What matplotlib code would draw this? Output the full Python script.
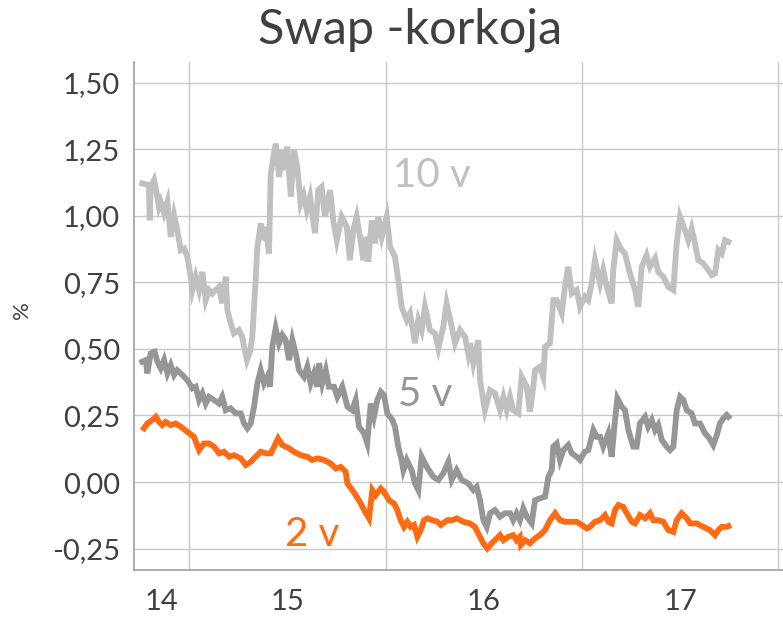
import numpy as np
import matplotlib
matplotlib.use("Agg")
import matplotlib.pyplot as plt

# Swap-korot: päivämäärä desimaalivuosina, korko prosentteina
dates_10v = [2014.762, 2014.796, 2014.800, 2014.805, 2014.822, 2014.831, 2014.847, 2014.856,
             2014.873, 2014.890, 2014.907, 2014.924, 2014.940, 2014.958, 2014.975, 2014.991,
             2015.009, 2015.017, 2015.034, 2015.051, 2015.068, 2015.085, 2015.102, 2015.119,
             2015.136, 2015.153, 2015.169, 2015.187, 2015.195, 2015.212, 2015.229, 2015.254,
             2015.271, 2015.280, 2015.295, 2015.310, 2015.322, 2015.339, 2015.348, 2015.365,
             2015.377, 2015.390, 2015.407, 2015.416, 2015.441, 2015.458, 2015.475, 2015.492,
             2015.500, 2015.518, 2015.534, 2015.551, 2015.568, 2015.583, 2015.599, 2015.616,
             2015.641, 2015.658, 2015.675, 2015.692, 2015.718, 2015.734, 2015.752, 2015.777,
             2015.803, 2015.819, 2015.836, 2015.853, 2015.870, 2015.887, 2015.904, 2015.912,
             2015.930, 2015.947, 2015.963, 2015.981, 2016.006, 2016.023, 2016.048, 2016.065,
             2016.082, 2016.108, 2016.125, 2016.150, 2016.167, 2016.184, 2016.201, 2016.226,
             2016.252, 2016.269, 2016.294, 2016.311, 2016.337, 2016.354, 2016.379, 2016.405,
             2016.421, 2016.430, 2016.447, 2016.472, 2016.481, 2016.506, 2016.532, 2016.557,
             2016.583, 2016.600, 2016.617, 2016.634, 2016.650, 2016.676, 2016.693, 2016.719,
             2016.735, 2016.752, 2016.761, 2016.786, 2016.803, 2016.812, 2016.837, 2016.854,
             2016.871, 2016.897, 2016.913, 2016.930, 2016.948, 2016.973, 2016.990, 2017.015,
             2017.032, 2017.049, 2017.066, 2017.092, 2017.108, 2017.126, 2017.151, 2017.159,
             2017.177, 2017.202, 2017.219, 2017.244, 2017.270, 2017.287, 2017.304, 2017.329,
             2017.346, 2017.372, 2017.388, 2017.414, 2017.439, 2017.465, 2017.473, 2017.482,
             2017.499, 2017.524, 2017.541, 2017.558, 2017.575, 2017.592, 2017.617, 2017.643,
             2017.660, 2017.677, 2017.694, 2017.711, 2017.728, 2017.745]
rate_10v = [1.121, 1.115, 0.983, 1.108, 1.134, 1.102, 1.033, 1.052,
            1.010, 1.052, 0.921, 1.002, 0.946, 0.871, 0.877, 0.846,
            0.771, 0.721, 0.771, 0.721, 0.789, 0.683, 0.721, 0.708,
            0.721, 0.733, 0.671, 0.771, 0.646, 0.596, 0.558, 0.571,
            0.545, 0.508, 0.458, 0.488, 0.545, 0.758, 0.883, 0.971,
            0.908, 0.958, 0.858, 1.159, 1.271, 1.146, 1.246, 1.171,
            1.259, 1.071, 1.246, 1.184, 1.046, 1.077, 1.021, 1.071,
            0.934, 1.096, 1.108, 0.996, 1.096, 0.983, 0.908, 0.996,
            0.958, 0.833, 0.946, 0.996, 0.921, 0.833, 0.921, 0.827,
            0.983, 0.896, 0.996, 0.921, 0.996, 0.883, 0.846, 0.758,
            0.658, 0.608, 0.633, 0.521, 0.608, 0.571, 0.658, 0.571,
            0.558, 0.502, 0.583, 0.671, 0.583, 0.521, 0.571, 0.545,
            0.483, 0.521, 0.446, 0.533, 0.383, 0.270, 0.345, 0.333,
            0.270, 0.320, 0.270, 0.320, 0.270, 0.258, 0.395, 0.358,
            0.264, 0.358, 0.420, 0.433, 0.395, 0.508, 0.521, 0.683,
            0.683, 0.633, 0.733, 0.808, 0.708, 0.721, 0.658, 0.696,
            0.683, 0.746, 0.833, 0.746, 0.796, 0.733, 0.671, 0.796,
            0.908, 0.871, 0.858, 0.783, 0.721, 0.658, 0.808, 0.852,
            0.808, 0.840, 0.789, 0.771, 0.733, 0.721, 0.808, 0.896,
            0.996, 0.946, 0.908, 0.952, 0.896, 0.833, 0.821, 0.796,
            0.777, 0.783, 0.871, 0.858, 0.908, 0.902]

dates_5v = [2014.762, 2014.780, 2014.788, 2014.805, 2014.825, 2014.839, 2014.856, 2014.873,
            2014.890, 2014.907, 2014.924, 2014.940, 2014.966, 2014.991, 2015.017, 2015.034,
            2015.051, 2015.068, 2015.085, 2015.102, 2015.127, 2015.153, 2015.169, 2015.187,
            2015.212, 2015.238, 2015.263, 2015.280, 2015.297, 2015.314, 2015.331, 2015.348,
            2015.365, 2015.382, 2015.398, 2015.412, 2015.424, 2015.441, 2015.458, 2015.475,
            2015.492, 2015.509, 2015.526, 2015.543, 2015.560, 2015.585, 2015.602, 2015.619,
            2015.636, 2015.653, 2015.662, 2015.678, 2015.696, 2015.712, 2015.738, 2015.755,
            2015.780, 2015.806, 2015.831, 2015.848, 2015.865, 2015.891, 2015.907, 2015.925,
            2015.941, 2015.958, 2015.976, 2015.992, 2016.009, 2016.035, 2016.048, 2016.065,
            2016.082, 2016.091, 2016.108, 2016.133, 2016.150, 2016.167, 2016.184, 2016.210,
            2016.243, 2016.269, 2016.294, 2016.320, 2016.337, 2016.362, 2016.388, 2016.421,
            2016.447, 2016.464, 2016.481, 2016.498, 2016.515, 2016.532, 2016.557, 2016.583,
            2016.608, 2016.634, 2016.650, 2016.667, 2016.684, 2016.701, 2016.719, 2016.744,
            2016.761, 2016.786, 2016.812, 2016.829, 2016.846, 2016.854, 2016.871, 2016.888,
            2016.905, 2016.930, 2016.948, 2016.973, 2016.990, 2017.015, 2017.032, 2017.058,
            2017.075, 2017.092, 2017.108, 2017.134, 2017.151, 2017.168, 2017.180, 2017.202,
            2017.219, 2017.236, 2017.261, 2017.278, 2017.295, 2017.321, 2017.337, 2017.355,
            2017.372, 2017.388, 2017.406, 2017.431, 2017.448, 2017.465, 2017.482, 2017.499,
            2017.516, 2017.533, 2017.558, 2017.575, 2017.601, 2017.626, 2017.643, 2017.668,
            2017.686, 2017.702, 2017.719, 2017.736, 2017.745]
rate_5v = [0.452, 0.458, 0.408, 0.483, 0.489, 0.452, 0.427, 0.458,
           0.408, 0.439, 0.402, 0.420, 0.402, 0.383, 0.352, 0.358,
           0.308, 0.333, 0.295, 0.320, 0.308, 0.295, 0.320, 0.270,
           0.277, 0.258, 0.258, 0.220, 0.202, 0.220, 0.283, 0.371,
           0.420, 0.371, 0.395, 0.358, 0.508, 0.577, 0.521, 0.552,
           0.533, 0.458, 0.533, 0.483, 0.420, 0.395, 0.433, 0.371,
           0.408, 0.358, 0.446, 0.371, 0.420, 0.358, 0.358, 0.320,
           0.358, 0.283, 0.270, 0.308, 0.208, 0.183, 0.146, 0.295,
           0.245, 0.308, 0.339, 0.327, 0.258, 0.233, 0.208, 0.133,
           0.083, 0.045, 0.083, 0.045, -0.005, -0.030, 0.095, 0.057,
           0.020, 0.008, 0.033, 0.076, 0.008, 0.045, 0.008, -0.005,
           -0.030, -0.018, -0.068, -0.143, -0.168, -0.117, -0.105, -0.130,
           -0.117, -0.117, -0.143, -0.117, -0.143, -0.099, -0.130, -0.155,
           -0.068, -0.061, -0.055, 0.020, 0.045, 0.133, 0.145, 0.083,
           0.120, 0.139, 0.108, 0.095, 0.083, 0.114, 0.120, 0.195,
           0.170, 0.170, 0.133, 0.183, 0.095, 0.233, 0.314, 0.283,
           0.270, 0.195, 0.133, 0.133, 0.220, 0.245, 0.208, 0.233,
           0.195, 0.214, 0.158, 0.133, 0.120, 0.133, 0.270, 0.320,
           0.308, 0.270, 0.258, 0.220, 0.220, 0.183, 0.170, 0.139,
           0.176, 0.220, 0.239, 0.252, 0.245]

dates_2v = [2014.771, 2014.788, 2014.813, 2014.831, 2014.847, 2014.864, 2014.881, 2014.907,
            2014.932, 2014.958, 2014.991, 2015.025, 2015.051, 2015.076, 2015.102, 2015.127,
            2015.153, 2015.178, 2015.204, 2015.229, 2015.263, 2015.289, 2015.314, 2015.339,
            2015.365, 2015.390, 2015.416, 2015.433, 2015.453, 2015.475, 2015.509, 2015.534,
            2015.568, 2015.602, 2015.627, 2015.653, 2015.687, 2015.721, 2015.747, 2015.772,
            2015.797, 2015.806, 2015.831, 2015.848, 2015.874, 2015.891, 2015.916, 2015.933,
            2015.950, 2015.976, 2015.992, 2016.018, 2016.043, 2016.060, 2016.077, 2016.094,
            2016.111, 2016.128, 2016.145, 2016.162, 2016.179, 2016.196, 2016.213, 2016.238,
            2016.264, 2016.281, 2016.315, 2016.340, 2016.362, 2016.396, 2016.430, 2016.455,
            2016.472, 2016.498, 2016.518, 2016.540, 2016.566, 2016.583, 2016.600, 2016.625,
            2016.650, 2016.667, 2016.684, 2016.689, 2016.710, 2016.735, 2016.761, 2016.786,
            2016.812, 2016.837, 2016.863, 2016.888, 2016.913, 2016.939, 2016.973, 2016.999,
            2017.024, 2017.041, 2017.066, 2017.092, 2017.117, 2017.134, 2017.151, 2017.168,
            2017.185, 2017.210, 2017.228, 2017.253, 2017.270, 2017.295, 2017.321, 2017.346,
            2017.363, 2017.388, 2017.414, 2017.439, 2017.465, 2017.482, 2017.507, 2017.533,
            2017.550, 2017.584, 2017.617, 2017.651, 2017.677, 2017.694, 2017.711, 2017.736,
            2017.745]
rate_2v = [0.202, 0.220, 0.233, 0.245, 0.226, 0.214, 0.226, 0.214,
           0.220, 0.208, 0.189, 0.170, 0.120, 0.145, 0.145, 0.133,
           0.108, 0.114, 0.095, 0.101, 0.089, 0.064, 0.076, 0.095,
           0.114, 0.108, 0.108, 0.133, 0.164, 0.139, 0.127, 0.114,
           0.101, 0.095, 0.083, 0.089, 0.083, 0.070, 0.051, 0.057,
           0.039, -0.005, -0.030, -0.049, -0.080, -0.105, -0.136, -0.030,
           -0.049, -0.024, -0.036, -0.068, -0.080, -0.105, -0.143, -0.168,
           -0.149, -0.168, -0.161, -0.205, -0.180, -0.143, -0.136, -0.143,
           -0.149, -0.161, -0.143, -0.143, -0.136, -0.149, -0.155, -0.168,
           -0.193, -0.230, -0.249, -0.230, -0.211, -0.199, -0.218, -0.205,
           -0.199, -0.218, -0.205, -0.236, -0.218, -0.230, -0.211, -0.199,
           -0.180, -0.143, -0.117, -0.143, -0.149, -0.149, -0.149, -0.161,
           -0.174, -0.168, -0.149, -0.143, -0.124, -0.149, -0.155, -0.105,
           -0.086, -0.093, -0.117, -0.149, -0.155, -0.124, -0.136, -0.117,
           -0.143, -0.143, -0.149, -0.180, -0.187, -0.143, -0.117, -0.136,
           -0.155, -0.155, -0.168, -0.180, -0.199, -0.180, -0.168, -0.168,
           -0.165]

year_starts = [2015, 2016, 2017, 2018]
label_pos = [2014.86, 2015.5, 2016.5, 2017.5]
year_labels = ["14", "15", "16", "17"]
y_ticks = [-0.25, 0.0, 0.25, 0.5, 0.75, 1.0, 1.25, 1.5]

c10 = "#c0c0c0"
c5 = "#969696"
c2 = "#ff6a13"
txt = "#404040"

plt.rcParams['font.family'] = ['Lato', 'DejaVu Sans']

fig = plt.figure(figsize=(7.83, 6.21), dpi=100)
ax = fig.add_axes([134/783, 1 - 570/621, 1 - 134/783, (570 - 62)/621])

ax.plot(dates_10v, rate_10v, color=c10, lw=4.2, solid_joinstyle='miter')
ax.plot(dates_5v, rate_5v, color=c5, lw=4.2, solid_joinstyle='miter')
ax.plot(dates_2v, rate_2v, color=c2, lw=4.2, solid_joinstyle='miter')

ax.text(2016.038, 1.152, "10 v", color=c10, fontsize=29, ha='left', va='center')
ax.text(2016.064, 0.33, "5 v", color=c5, fontsize=29, ha='left', va='center')
ax.text(2015.489, -0.195, "2 v", color=c2, fontsize=29, ha='left', va='center')

ax.set_xlim(2014.72, 2018.023)
ax.set_ylim(-0.330, 1.577)

ax.set_xticks(year_starts)
ax.set_xticklabels([])
ax.set_xticks(label_pos, minor=True)
ax.set_xticklabels(year_labels, minor=True)
ax.set_yticks(y_ticks)
ax.set_yticklabels([f"{v:.2f}".replace(".", ",") for v in y_ticks])

ax.tick_params(axis='both', which='both', length=0, labelsize=21, labelcolor=txt)
ax.tick_params(axis='x', which='minor', pad=14)
ax.tick_params(axis='y', pad=10)

ax.grid(True, which='major', color="#c8c8c8", lw=1)
ax.set_axisbelow(True)
for s in ['top', 'right']:
    ax.spines[s].set_visible(False)
for s in ['left', 'bottom']:
    ax.spines[s].set_color("#a0a0a0")
    ax.spines[s].set_linewidth(1.2)

fig.text(22/783, 1 - 310/621, "%", rotation=90, fontsize=16, color=txt, ha='center', va='center')
fig.text(410/783, 1 - 30/621, "Swap -korkoja", fontsize=35, color=txt, ha='center', va='center')

fig.savefig("out.png", dpi=100)
